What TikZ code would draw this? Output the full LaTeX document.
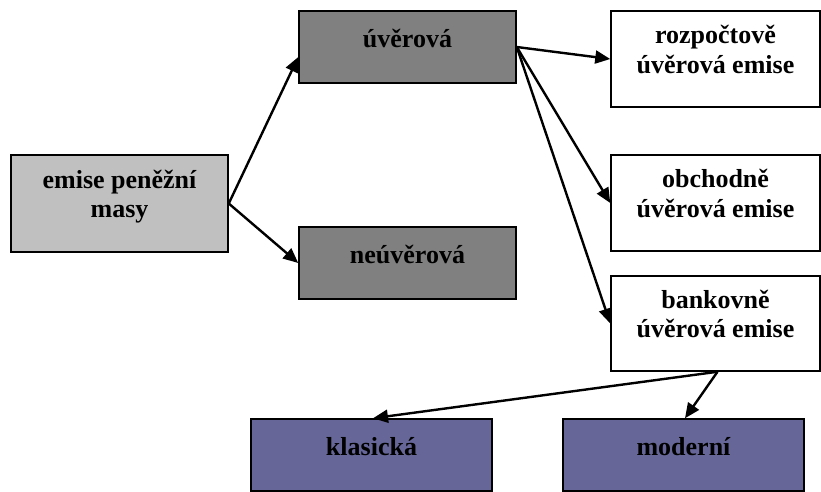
\documentclass[tikz,border=0pt]{standalone}
\usepackage{fontspec}
\setmainfont{Liberation Serif}
\usetikzlibrary{arrows.meta}
\definecolor{lightgray}{RGB}{192,192,192}
\definecolor{mediumgray}{RGB}{128,128,128}
\definecolor{slateblue}{RGB}{102,102,153}
\tikzset{
  box/.style={draw=black, line width=1.5pt, align=center, inner sep=0pt,
    font=\bfseries\fontsize{26}{29.5}\selectfont},
  oneline/.style={box, text height=20pt, text depth=20pt},
  twoline/.style={box, text height=44pt, text depth=16pt},
  link/.style={-{Triangle[length=15pt,width=13pt]}, line width=2.4pt}
}

\begin{document}
\begin{tikzpicture}[x=1pt,y=-1pt]
    \useasboundingbox (0,0) rectangle (821,491);
    \clip (0,0) rectangle (821,491);

    % left
    \node[twoline, fill=lightgray, minimum width=217pt, minimum height=97pt] (emise) at (119.5,203.5) {emise peněžní\\masy};

    % middle column
    \node[oneline, fill=mediumgray, minimum width=217pt, minimum height=72pt] (uver) at (407.5,47) {úvěrová};
    \node[oneline, fill=mediumgray, minimum width=217pt, minimum height=72pt] (neuver) at (407.5,263) {neúvěrová};

    % right column
    \node[twoline, fill=white, minimum width=209pt, minimum height=96pt] (rozp) at (715.5,59) {rozpočtově\\úvěrová emise};
    \node[twoline, fill=white, minimum width=209pt, minimum height=96pt] (obch) at (715.5,203) {obchodně\\úvěrová emise};
    \node[twoline, fill=white, minimum width=209pt, minimum height=95pt] (bank) at (715.5,323.5) {bankovně\\úvěrová emise};

    % bottom row
    \node[oneline, fill=slateblue, minimum width=241pt, minimum height=72pt] (klas) at (371.5,455) {klasická};
    \node[oneline, fill=slateblue, minimum width=241pt, minimum height=72pt] (moder) at (683.5,455) {moderní};

    \draw[link] (emise.east) -- ([yshift=-10pt]uver.west);
    \draw[link] (emise.east) -- (neuver.west);
    \draw[link] (uver.east) -- (rozp.west);
    \draw[link] (uver.east) -- (obch.west);
    \draw[link] (uver.east) -- (bank.west);
    \draw[link] ([xshift=2pt]bank.south) -- ([xshift=1.5pt]klas.north);
    \draw[link] ([xshift=2pt]bank.south) -- ([xshift=1.5pt]moder.north);
\end{tikzpicture}
\end{document}
